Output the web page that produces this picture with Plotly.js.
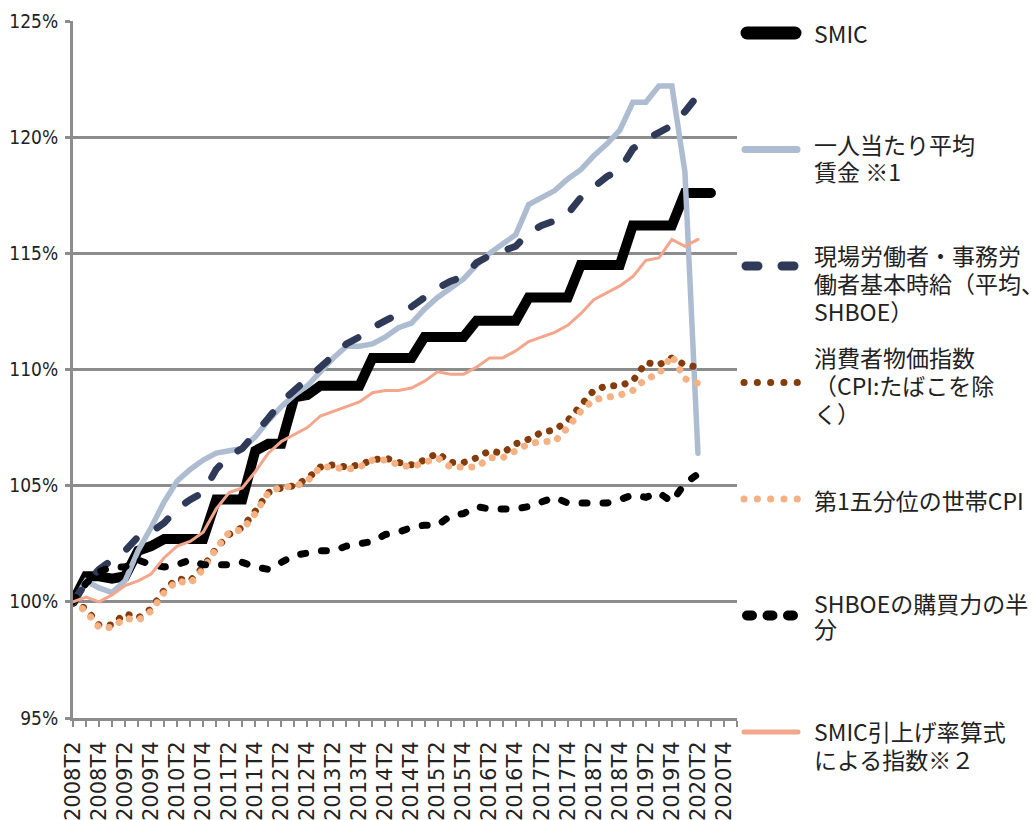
<!DOCTYPE html>
<html><head><meta charset="utf-8">
<script src="https://cdn.plot.ly/plotly-3.0.1.min.js"></script>
<style>
html,body{margin:0;padding:0;background:#fff;}
#chart{width:1031px;height:820px;}
.js-line, .shapelayer path { stroke-linecap: round !important; }
</style></head><body><div id="chart"></div>
<script>
// Category labels (quarters)
const quarters = ["2008T2","2008T3","2008T4",
 "2009T1","2009T2","2009T3","2009T4","2010T1","2010T2","2010T3","2010T4",
 "2011T1","2011T2","2011T3","2011T4","2012T1","2012T2","2012T3","2012T4",
 "2013T1","2013T2","2013T3","2013T4","2014T1","2014T2","2014T3","2014T4",
 "2015T1","2015T2","2015T3","2015T4","2016T1","2016T2","2016T3","2016T4",
 "2017T1","2017T2","2017T3","2017T4","2018T1","2018T2","2018T3","2018T4",
 "2019T1","2019T2","2019T3","2019T4","2020T1","2020T2","2020T3","2020T4","2021T1"];

// Series (index, 2008T2 = 100)
const smic = [100.0,101.1,101.1,101.0,101.1,102.2,102.4,102.7,102.7,102.7,102.7,104.4,104.4,104.4,106.5,106.8,106.8,108.8,108.9,109.3,109.3,109.3,109.3,110.5,110.5,110.5,110.5,111.4,111.4,111.4,111.4,112.1,112.1,112.1,112.1,113.1,113.1,113.1,113.1,114.5,114.5,114.5,114.5,116.2,116.2,116.2,116.2,117.6,117.6,117.6];
const avgWage = [100.0,100.9,100.6,100.4,100.9,102.2,103.2,104.3,105.2,105.7,106.1,106.4,106.5,106.6,107.1,107.8,108.4,108.9,109.3,109.9,110.5,111.0,111.0,111.1,111.4,111.8,112.0,112.6,113.1,113.5,113.9,114.5,115.0,115.4,115.8,117.1,117.4,117.7,118.2,118.6,119.2,119.7,120.3,121.5,121.5,122.2,122.2,118.5,106.4];
const shboe = [100.0,100.8,101.4,101.8,102.2,102.8,103.0,103.4,104.0,104.4,104.7,105.7,106.3,106.6,107.2,107.9,108.6,109.1,109.6,110.1,110.6,111.1,111.4,111.8,112.1,112.4,112.7,113.1,113.5,113.8,114.0,114.6,114.9,115.1,115.3,115.9,116.2,116.4,116.7,117.4,117.9,118.3,118.6,119.5,119.9,120.2,120.5,121.1,121.8];
const cpi = [100.0,99.7,99.0,99.0,99.5,99.3,99.7,100.5,101.0,100.9,101.5,102.3,102.9,103.2,103.9,104.7,104.9,105.0,105.3,105.8,105.9,105.8,105.9,106.1,106.2,106.0,105.9,106.1,106.4,106.0,106.0,106.2,106.5,106.4,106.8,107.0,107.3,107.4,107.8,108.5,109.1,109.3,109.3,109.5,110.3,110.2,110.5,110.2,110.1];
const cpiQ1 = [100.0,99.6,98.9,98.9,99.3,99.2,99.6,100.4,100.9,100.8,101.4,102.3,103.0,103.1,103.8,104.7,104.95,104.95,105.2,105.8,105.8,105.7,105.8,106.1,106.1,105.9,105.8,106.0,106.2,105.8,105.8,105.8,106.2,106.2,106.5,106.8,106.9,106.9,107.5,108.2,108.7,108.8,108.9,109.1,109.6,109.8,110.6,109.6,109.4];
const shboeHalfPower = [100.0,100.8,101.3,101.5,101.5,101.8,101.6,101.5,101.6,101.8,101.6,101.6,101.6,101.7,101.5,101.4,101.7,102.0,102.1,102.2,102.2,102.4,102.5,102.6,102.9,103.0,103.2,103.3,103.3,103.7,103.8,104.1,104.0,104.0,104.0,104.1,104.3,104.5,104.25,104.25,104.25,104.25,104.4,104.6,104.5,104.7,104.3,105.1,105.5];
const smicFormula = [100.0,100.2,100.0,100.3,100.7,100.9,101.2,101.9,102.4,102.6,103.0,104.0,104.7,104.9,105.6,106.4,106.9,107.2,107.5,108.0,108.2,108.4,108.6,109.0,109.1,109.1,109.2,109.5,109.9,109.8,109.8,110.1,110.5,110.5,110.8,111.2,111.4,111.6,111.9,112.4,113.0,113.3,113.6,114.0,114.7,114.8,115.6,115.3,115.6];

const yTicks = [95,100,105,110,115,120,125];

// Legend text lines
const legendNames = [
  ["SMIC"],
  ["一人当たり平均","賃金 ※1"],
  ["現場労働者・事務労","働者基本時給（平均、","SHBOE）"],
  ["消費者物価指数","（CPI:たばこを除","く）"],
  ["第1五分位の世帯CPI"],
  ["SHBOEの購買力の半","分"],
  ["SMIC引上げ率算式","による指数※２"]
];

const C = {
  smic:'#000000', wage:'#ADBCD1', shboe:'#2E3A57', cpi:'#843C0C',
  q1:'#F4B183', half:'#000000', formula:'#F4A68C', grid:'#8C8C8C'
};
const styles = [
  {c:C.smic, w:10, d:'solid'},
  {c:C.wage, w:5.5, d:'solid'},
  {c:C.shboe, w:7, d:'14px,24px'},
  {c:C.cpi, w:7, d:'0.1px,11.6px'},
  {c:C.q1, w:7, d:'0.1px,11.6px'},
  {c:C.half, w:7, d:'5px,16px'},
  {c:C.formula, w:3, d:'solid'}
];
const series = [smic, avgWage, shboe, cpi, cpiQ1, shboeHalfPower, smicFormula];

const traces = series.map((vals,k)=>({
  type:'scatter', mode:'lines',
  x: quarters.slice(0, vals.length), y: vals,
  name: legendNames[k].join(''),
  line:{color:styles[k].c, width:styles[k].w, dash:styles[k].d},
  hoverinfo:'skip', showlegend:false
}));

// plot area geometry (pixels)
const L=73, R=737, T=21, B=718, W=1031, H=820;
const px = x => (x-L)/(R-L);
const py = y => (B-y)/(B-T);

const shapes=[], annotations=[];
const keyY = [33,149.5,266,382.5,499,615.5,732];
const keyDef = [
  {x0:747,x1:795,w:13,d:'solid'},
  {x0:745,x1:797,w:7,d:'solid'},
  {x0:746,x1:796,w:9,d:'12px,24px'},
  {x0:744,x1:797.5,w:7,d:'0.1px,13.2px'},
  {x0:744,x1:797.5,w:7,d:'0.1px,13.2px'},
  {x0:747,x1:793,w:10,d:'5px,15.5px'},
  {x0:744,x1:798,w:5,d:'solid'}
];
const textY = [[33],[144,171],[255,283,311],[357,385,413],[500],[603,628],[731,759]];
keyDef.forEach((k,i)=>{
  shapes.push({type:'line', xref:'paper', yref:'paper',
    x0:px(k.x0), x1:px(k.x1), y0:py(keyY[i]), y1:py(keyY[i]),
    line:{color:styles[i].c, width:k.w, dash:k.d}});
  legendNames[i].forEach((t,j)=>{
    annotations.push({xref:'paper', yref:'paper', x:px(812), y:py(textY[i][j]),
      xanchor:'left', yanchor:'middle', showarrow:false, text:t,
      font:{family:'"Noto Sans CJK JP", "Noto Sans", sans-serif', size:23, color:'#222'}});
  });
});

const tickText = quarters.map((q,i)=> i%2===0 ? q : '');

const layout = {
  width:W, height:H,
  margin:{l:L, r:W-R, t:T, b:H-B, pad:0},
  paper_bgcolor:'#fff', plot_bgcolor:'#fff',
  showlegend:false, hovermode:false,
  xaxis:{type:'category', categoryorder:'array', categoryarray:quarters,
    range:[0, quarters.length-1], autorange:false,
    tickmode:'array', tickvals:quarters, ticktext:tickText, tickangle:-90,
    ticks:'outside', ticklen:6, tickwidth:2, tickcolor:C.grid,
    showline:true, linecolor:C.grid, linewidth:3, showgrid:false, zeroline:false,
    ticklabelstandoff:6,
    tickfont:{family:'"DejaVu Sans", sans-serif', size:21, color:'#222'}},
  yaxis:{range:[95,125], autorange:false, tickmode:'array', tickvals:yTicks,
    ticktext:yTicks.map(v=>v+'%'),
    ticks:'outside', ticklen:5, tickwidth:3, tickcolor:C.grid,
    showline:true, linecolor:C.grid, linewidth:3,
    showgrid:true, gridcolor:C.grid, gridwidth:3, zeroline:false,
    ticklabelstandoff:3,
    tickfont:{family:'"Liberation Sans Narrow", "DejaVu Sans Condensed", sans-serif', size:19, color:'#222'}},
  shapes:shapes, annotations:annotations
};

Plotly.newPlot('chart', traces, layout, {staticPlot:true, displayModeBar:false});
</script></body></html>
